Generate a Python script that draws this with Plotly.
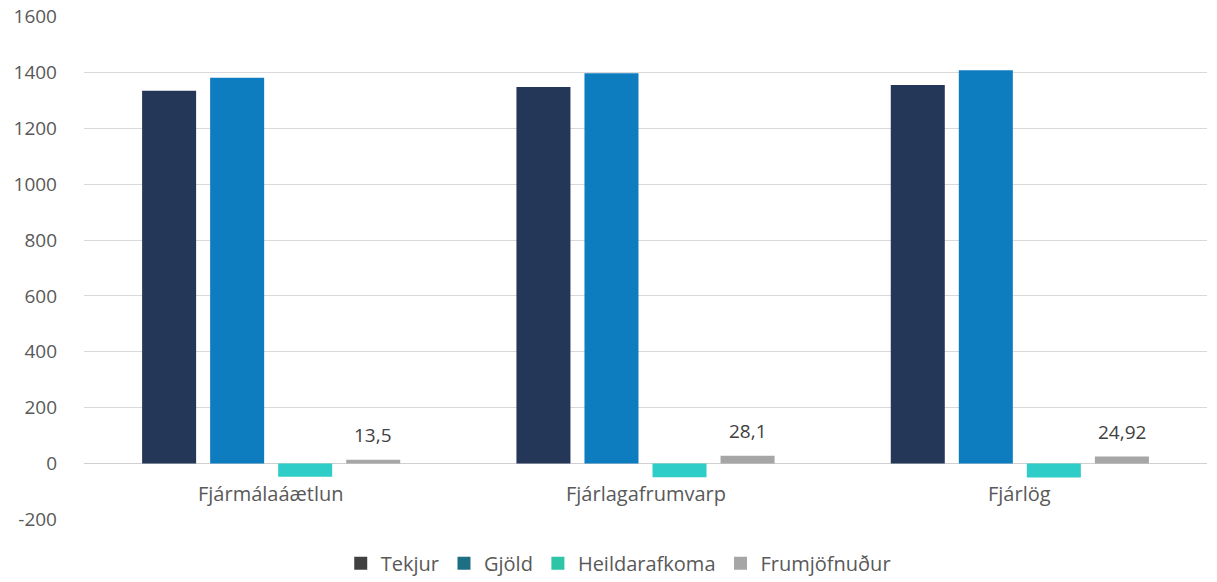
import plotly.graph_objects as go

categories = ["Fjármálaáætlun", "Fjárlagafrumvarp", "Fjárlög"]
series_names = ["Tekjur", "Gjöld", "Heildarafkoma", "Frumjöfnuður"]
tekjur = [1334, 1348, 1355]
gjold = [1381, 1397, 1408]
heildarafkoma = [-47, -49, -50]
frumjofnudur = [13.5, 28.1, 24.92]
frum_labels = ["13,5", "28,1", "24,92"]
tick_values = [-200, 0, 200, 400, 600, 800, 1000, 1200, 1400, 1600]
tick_labels = ["-200", "0", "200", "400", "600", "800", "1000", "1200", "1400", "1600"]

bar_colors = ["#253759", "#0e7dc0", "#2fcdc8", "#a6a6a6"]
legend_colors = ["#404040", "#1f6f84", "#2ec4a6", "#a6a6a6"]

values = [tekjur, gjold, heildarafkoma, frumjofnudur]
font_family = "Open Sans, Liberation Sans, sans-serif"

fig = go.Figure()
for name, vals, col in zip(series_names, values, bar_colors):
    fig.add_trace(go.Bar(
        x=categories, y=vals, name=name, marker_color=col,
        marker_line_width=0, showlegend=False,
    ))

# legend-only entries (scatter so they don't take bar slots)
for name, col in zip(series_names, legend_colors):
    fig.add_trace(go.Scatter(x=[None], y=[None], name=name, mode="markers",
                             marker=dict(symbol="square", size=13, color=col),
                             showlegend=True))

annotations = []
for c in categories:
    annotations.append(dict(x=c, y=0, xref="x", yref="y", text=c, showarrow=False,
                            yshift=-30, font=dict(size=20, color="#595959", family=font_family)))
# data labels for Frumjöfnuður (4th bar of each group)
for c, v, lab in zip(categories, frumjofnudur, frum_labels):
    annotations.append(dict(x=c, y=v, xref="x", yref="y", text=lab, showarrow=False,
                            xshift=102, yshift=10, yanchor="bottom",
                            font=dict(size=19, color="#404040", family=font_family)))

fig.update_layout(
    width=1217, height=582,
    barmode="group", bargap=0.273, bargroupgap=0.206,
    plot_bgcolor="white", paper_bgcolor="white",
    margin=dict(l=84, r=10, t=16, b=62, autoexpand=False),
    font=dict(family=font_family, color="#595959", size=19),
    xaxis=dict(showticklabels=False, showline=False, showgrid=False, zeroline=False),
    yaxis=dict(range=[-202, 1602], tickvals=tick_values, ticktext=tick_labels,
               showgrid=True, gridcolor="#d9d9d9", ticklabeloverflow="allow",
               gridwidth=1, zeroline=True, zerolinecolor="#d0d0d0", zerolinewidth=1,
               tickfont=dict(size=19, color="#595959"), ticks="", ticklabelstandoff=26),
    legend=dict(orientation="h", xref="container", x=0.508, xanchor="center",
                yref="paper", y=-0.086, yanchor="middle",
                font=dict(size=20, color="#595959"), traceorder="normal",
                itemwidth=30, tracegroupgap=0),
    annotations=annotations,
)

fig.write_html("out.html", config={"displayModeBar": False},
               post_script="document.body.style.margin='0';")
